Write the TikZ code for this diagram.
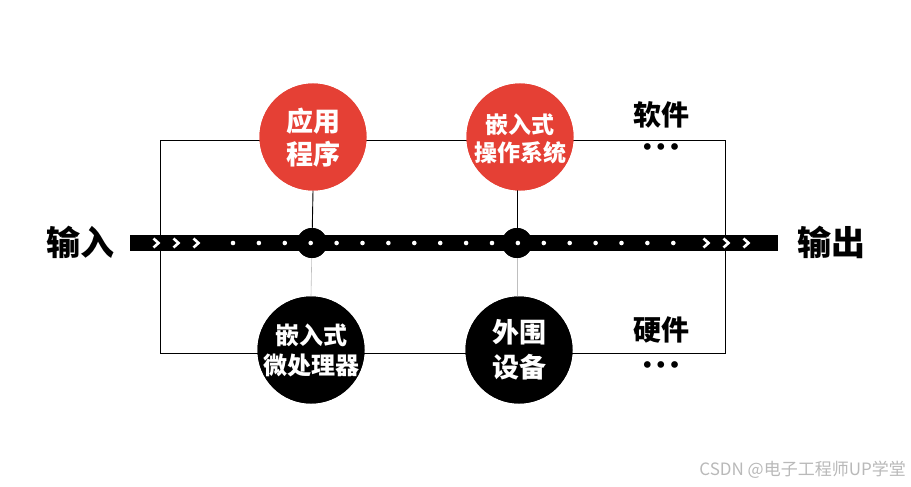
\documentclass[tikz,border=0pt]{standalone}
\usepackage{fontspec}
\newfontfamily\cjk{Noto Sans CJK SC}
\newfontfamily\dejavu{DejaVu Sans}
\definecolor{cred}{RGB}{229,64,53}
\definecolor{wm}{RGB}{185,185,185}
\tikzset{
  redc/.style={circle,fill=cred,minimum size=107pt,inner sep=0pt,text=white,align=center},
  blkc/.style={circle,fill=black,minimum size=107pt,inner sep=0pt,text=white,align=center},
  junc/.style={circle,fill=black,minimum size=30pt,inner sep=0pt},
  wdot/.style={white},
  chev/.style={white,line width=2.6pt,line cap=butt,line join=miter},
  lbl/.style={font=\cjk\bfseries\fontsize{28}{30}\selectfont},
  iolbl/.style={font=\cjk\bfseries\fontsize{34}{36}\selectfont},
  ellip/.style={font=\dejavu\fontsize{23}{24}\selectfont,inner sep=0pt},
  thin/.style={line width=0.9pt},
}
\begin{document}
\begin{tikzpicture}[x=1pt,y=-1pt]
\useasboundingbox[fill=white] (0,0) rectangle (911,487);
% frame
\coordinate (tl) at (160,140);
\coordinate (br) at (725,353);
\draw[thin] (tl) rectangle (br);
% junctions
\node[junc] (j1) at (312,243) {};
\node[junc] (j2) at (517,243) {};
% circles
\node[redc] (app) at (313,137) {};
\node[redc] (os) at (520,137) {};
\node[blkc] (cpu) at (311,350) {};
\node[blkc] (per) at (519,350) {};
% vertical connectors
\draw[thin] (app.south) -- (j1.center);
\draw[thin] (517,190) -- (j2.center);
\draw[line width=0.6pt,black!25] (j1.center) -- (cpu.north);
\draw[line width=0.6pt,black!25] (j2.center) -- (517,297);
% bar
\fill[black] (130,235) rectangle (778,251);
\node[junc] at (j1) {};
\node[junc] at (j2) {};
\foreach \i in {0,...,17}{
  \fill[wdot] ({233+\i*25.9},243) circle (2.3pt);
}
\foreach \x in {157,177,197,707,727,747}{
  \draw[chev] (\x-3.5,238.5) -- (\x+1.5,243) -- (\x-3.5,247.5);
}
% circle redraw on top
\node[redc] at (313,137) {};
\node[redc] at (520,137) {};
\node[blkc] at (311,350) {};
\node[blkc] at (519,350) {};
% texts
\node[text=white,font=\cjk\bfseries\fontsize{27}{33}\selectfont,align=center] (tapp) at (313,138) {应用\\程序};
\node[text=white,font=\cjk\bfseries\fontsize{23}{28}\selectfont,align=center] (tos) at (520,139) {嵌入式\\操作系统};
\node[text=white,font=\cjk\bfseries\fontsize{24}{30}\selectfont,align=center] (tcpu) at (311,350) {嵌入式\\微处理器};
\node[text=white,font=\cjk\bfseries\fontsize{27}{35}\selectfont,align=center] (tper) at (519,350) {外围\\设备};
% io labels
\node[iolbl] (in) at (80,242) {输入};
\node[iolbl] (out) at (831,242) {输出};
% side labels
\node[lbl] (sw) at (661,115) {软件};
\node[ellip] (swd) at (661,150) {•••};
\node[lbl] (hw) at (661,330) {硬件};
\node[ellip] (hwd) at (661,368) {•••};
% watermark
\node[text=wm,font=\cjk\fontsize{17}{19}\selectfont,anchor=east,inner sep=0pt] (wmk) at (906,470) {CSDN @电子工程师UP学堂};
\end{tikzpicture}
\end{document}
